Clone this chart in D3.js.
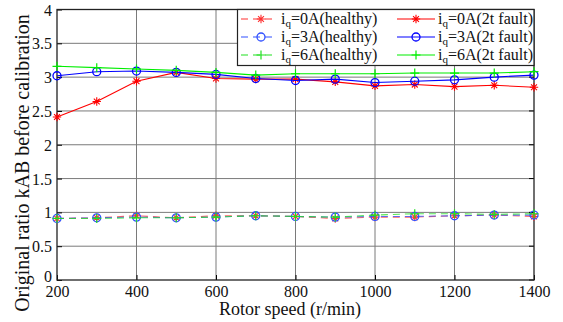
<!DOCTYPE html>
<html>
<head>
<meta charset="utf-8">
<script src="https://cdn.jsdelivr.net/npm/d3@7"></script>
<style>
  body { margin: 0; background: #fff; }
  svg, svg text { font-family: "Liberation Serif", "DejaVu Serif", serif !important; }
</style>
</head>
<body>
<svg id="chart" width="563" height="322"></svg>
<script>
// rotor speed (r/min)
const speeds = [200, 300, 400, 500, 600, 700, 800, 900, 1000, 1100, 1200, 1300, 1400];

// healthy machine
const iq0Healthy = [0.91, 0.92, 0.95, 0.92, 0.95, 0.95, 0.94, 0.91, 0.93, 0.93, 0.95, 0.96, 0.94];
const iq3Healthy = [0.91, 0.92, 0.93, 0.92, 0.93, 0.95, 0.94, 0.93, 0.94, 0.94, 0.95, 0.96, 0.96];
const iq6Healthy = [0.91, 0.91, 0.92, 0.92, 0.93, 0.95, 0.94, 0.93, 0.96, 0.98, 0.98, 0.97, 0.98];

// 2 turn fault
const iq0Fault = [2.41, 2.64, 2.94, 3.07, 2.98, 2.97, 2.97, 2.93, 2.87, 2.89, 2.86, 2.88, 2.85];
const iq3Fault = [3.02, 3.08, 3.09, 3.07, 3.04, 2.98, 2.95, 2.97, 2.92, 2.94, 2.96, 3.00, 3.03];
const iq6Fault = [3.16, 3.14, 3.12, 3.10, 3.07, 3.03, 3.05, 3.05, 3.05, 3.06, 3.06, 3.06, 3.08];

const xTicks = [200, 400, 600, 800, 1000, 1200, 1400];
const yTicks = [0, 0.5, 1, 1.5, 2, 2.5, 3, 3.5, 4];

const series = [
  { name: "0A(healthy)", values: iq0Healthy, color: "#ff3030", marker: "star", dashed: true },
  { name: "3A(healthy)", values: iq3Healthy, color: "#3050ff", marker: "circle", dashed: true },
  { name: "6A(healthy)", values: iq6Healthy, color: "#20e020", marker: "plus", dashed: true },
  { name: "0A(2t fault)", values: iq0Fault, color: "#ff0000", marker: "star", dashed: false },
  { name: "3A(2t fault)", values: iq3Fault, color: "#0000ff", marker: "circle", dashed: false },
  { name: "6A(2t fault)", values: iq6Fault, color: "#00ee00", marker: "plus", dashed: false }
];

const margin = { left: 57, right: 29, top: 9.5, bottom: 42 };
const width = 563, height = 322;
const svg = d3.select("#chart");

const x = d3.scaleLinear().domain([200, 1400]).range([margin.left, width - margin.right]);
const y = d3.scaleLinear().domain([0, 4]).range([height - margin.bottom, margin.top]);

// grid
const grid = svg.append("g").attr("stroke", "#7a7a7a").attr("stroke-width", 1);
grid.selectAll("line.v").data(xTicks.slice(1, -1)).join("line")
  .attr("x1", d => x(d)).attr("x2", d => x(d))
  .attr("y1", y(0)).attr("y2", y(4));
grid.selectAll("line.h").data(yTicks.slice(1, -1)).join("line")
  .attr("x1", x(200)).attr("x2", x(1400))
  .attr("y1", d => y(d)).attr("y2", d => y(d));

// axes
const xAxis = d3.axisBottom(x).tickValues(xTicks).tickSize(-5).tickPadding(6)
  .tickFormat(d3.format("d"));
const yAxis = d3.axisLeft(y).tickValues(yTicks).tickSize(-5).tickPadding(5)
  .tickFormat(d3.format("~g"));

svg.append("g").attr("transform", `translate(0,${y(0)})`).call(xAxis)
  .attr("font-family", null)
  .call(g => g.select(".domain").remove())
  .call(g => g.selectAll("text").attr("font-size", 16).attr("fill", "#111"));
svg.append("g").attr("transform", `translate(${x(200)},0)`).call(yAxis)
  .attr("font-family", null)
  .call(g => g.select(".domain").remove())
  .call(g => g.selectAll("text").attr("font-size", 16).attr("fill", "#111")
    .attr("dy", d => d === 0 ? "0.1em" : "0.35em"));

// right side ticks
svg.append("g").selectAll("line").data(yTicks).join("line")
  .attr("x1", x(1400)).attr("x2", x(1400) - 5)
  .attr("y1", d => y(d)).attr("y2", d => y(d))
  .attr("stroke", "#000");

svg.append("rect")
  .attr("x", x(200)).attr("y", y(4))
  .attr("width", x(1400) - x(200)).attr("height", y(0) - y(4))
  .attr("fill", "none").attr("stroke", "#222").attr("stroke-width", 1.3);

// axis titles
svg.append("text")
  .attr("x", 290).attr("y", 315)
  .attr("text-anchor", "middle").attr("font-size", 18).attr("fill", "#111")
  .text("Rotor speed (r/min)");
svg.append("text")
  .attr("transform", "translate(29,163) rotate(-90)")
  .attr("text-anchor", "middle").attr("font-size", 20).attr("fill", "#111")
  .text("Original ratio kAB before calibration");

function drawMarker(g, type, cx, cy, color) {
  if (type === "circle") {
    g.append("circle").attr("cx", cx).attr("cy", cy).attr("r", 4)
      .attr("fill", "none").attr("stroke", color).attr("stroke-width", 1.3);
  } else if (type === "plus") {
    g.append("path").attr("d", `M${cx - 4.5},${cy}H${cx + 4.5}M${cx},${cy - 4.5}V${cy + 4.5}`)
      .attr("stroke", color).attr("stroke-width", 1.2);
  } else {
    const r = 4.2, d = r * 0.7;
    g.append("path")
      .attr("d", `M${cx - r},${cy}H${cx + r}M${cx},${cy - r}V${cy + r}` +
        `M${cx - d},${cy - d}L${cx + d},${cy + d}M${cx - d},${cy + d}L${cx + d},${cy - d}`)
      .attr("stroke", color).attr("stroke-width", 1.1);
  }
}

const line = d3.line().x((d, i) => x(speeds[i])).y(d => y(d));

// healthy first, then fault on top
series.forEach(s => {
  const g = svg.append("g");
  g.append("path").datum(s.values).attr("d", line)
    .attr("fill", "none").attr("stroke", s.color)
    .attr("stroke-width", 1.1)
    .attr("stroke-opacity", s.dashed ? 0.75 : 1)
    .attr("stroke-dasharray", s.dashed ? "7,5" : null);
  s.values.forEach((v, i) => drawMarker(g, s.marker, x(speeds[i]), y(v), s.color));
});

// legend
const legend = svg.append("g");
legend.append("rect").attr("x", 237.5).attr("y", y(4)).attr("width", x(1400) - 237.5).attr("height", 56)
  .attr("fill", "#fff").attr("stroke", "#222").attr("stroke-width", 1.2);
const rowY = [19, 37, 55];
series.forEach((s, i) => {
  const col = Math.floor(i / 3), row = i % 3;
  const lx = col === 0 ? 241 : 397, lw = col === 0 ? 36 : 38;
  const cy = rowY[row];
  legend.append("line").attr("x1", lx).attr("x2", lx + lw).attr("y1", cy).attr("y2", cy)
    .attr("stroke", s.color).attr("stroke-width", 1.1)
    .attr("stroke-dasharray", s.dashed ? "7,5" : null);
  drawMarker(legend, s.marker, lx + lw / 2 + (col === 0 ? 2 : 0), cy, s.color);
  const t = legend.append("text").attr("x", col === 0 ? 281 : 438).attr("y", cy + 5)
    .attr("font-size", 16).attr("fill", "#111");
  t.append("tspan").text("i");
  t.append("tspan").attr("font-size", 11).attr("dy", 3).text("q");
  t.append("tspan").attr("dy", -3).text("=" + s.name);
});
</script>
</body>
</html>
